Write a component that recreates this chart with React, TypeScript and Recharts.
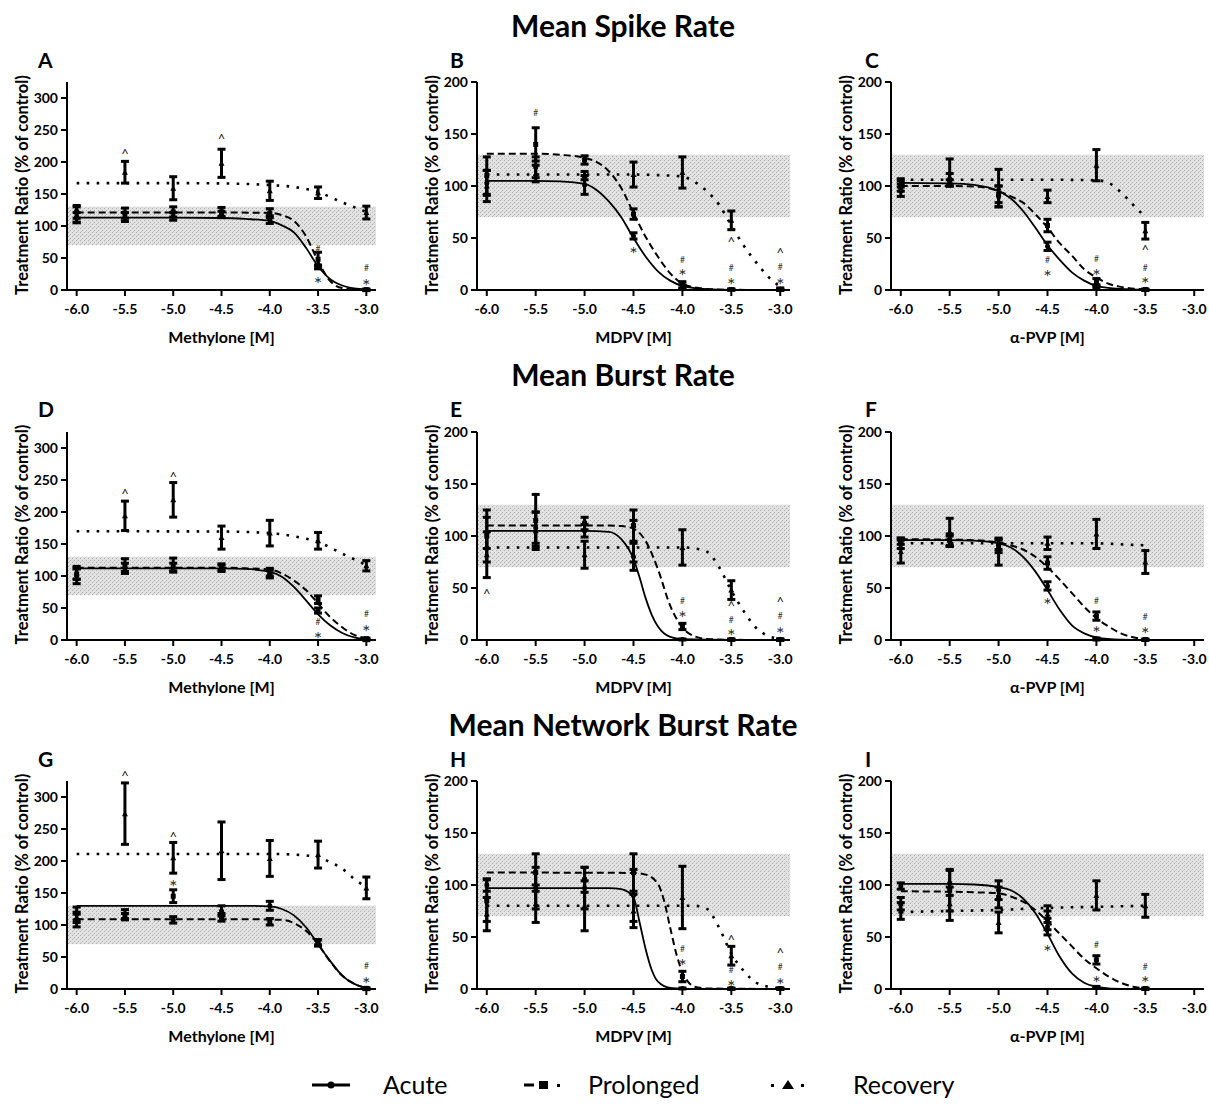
import React from 'react'
import {
  ComposedChart,
  Line,
  Scatter,
  XAxis,
  YAxis,
  ErrorBar,
  ReferenceArea,
  ReferenceDot,
} from 'recharts'

type Pt = [number, number, number] // dose, mean, sem
type Fit = [number, number] // dose, fitted value
type Mark = [number, number, string] // dose, value, symbol

const doseTicks = [-6.0, -5.5, -5.0, -4.5, -4.0, -3.5, -3.0]
const methyloneTicks = [0, 50, 100, 150, 200, 250, 300]
const cathinoneTicks = [0, 50, 100, 150, 200]
const rowTitles = ['Mean Spike Rate', 'Mean Burst Rate', 'Mean Network Burst Rate']
const drugLabels = ['Methylone [M]', 'MDPV [M]', 'α-PVP [M]']
const panelLetters = ['A', 'B', 'C', 'D', 'E', 'F', 'G', 'H', 'I']
const legendNames = ['Acute', 'Prolonged', 'Recovery']
const bandRange = [70, 130]

// --- A: spike rate, methylone
const aAcute: Pt[] = [[-6, 113, 8], [-5.5, 114, 7], [-5, 115, 6], [-4.5, 118, 5], [-4, 110, 6], [-3.5, 36, 3], [-3, 0, 1]]
const aProl: Pt[] = [[-6, 122, 10], [-5.5, 120, 8], [-5, 122, 8], [-4.5, 122, 7], [-4, 120, 7], [-3.5, 48, 11], [-3, 0.5, 1]]
const aRec: Pt[] = [[-6, 118, 12], [-5.5, 184, 17], [-5, 159, 18], [-4.5, 198, 22], [-4, 155, 15], [-3.5, 152, 9], [-3, 121, 10]]
const aAcuteFit: Fit[] = [[-6, 113], [-5, 113], [-4.5, 112.5], [-4.25, 111], [-4, 108], [-3.875, 101], [-3.75, 90], [-3.625, 66], [-3.5, 37], [-3.375, 17], [-3.25, 7], [-3.125, 2.5], [-3, 0.8]]
const aProlFit: Fit[] = [[-6, 121], [-4.5, 121], [-4, 120.5], [-3.875, 117], [-3.75, 108], [-3.625, 84], [-3.5, 45], [-3.375, 14], [-3.25, 3], [-3.125, 0.8], [-3, 0.2]]
const aRecFit: Fit[] = [[-6, 167], [-5, 167], [-4.5, 166.5], [-4, 164], [-3.75, 161], [-3.5, 153], [-3.25, 137], [-3, 122]]
const aMarks: Mark[] = [[-5.5, 216, '^'], [-4.5, 239, '^'], [-3.5, 64, '#'], [-3.5, 17, '*'], [-3, 34, '#'], [-3, 14, '*']]

// --- B: spike rate, MDPV
const bAcute: Pt[] = [[-6, 103, 12], [-5.5, 118, 10], [-5, 101, 9], [-4.5, 52, 3], [-4, 3, 2], [-3.5, 0.3, 0.5], [-3, 0.2, 0.5]]
const bProl: Pt[] = [[-6, 110, 18], [-5.5, 140, 16], [-5, 125, 4], [-4.5, 73, 5], [-4, 5, 3], [-3.5, 0.5, 0.5], [-3, 0.3, 0.5]]
const bRec: Pt[] = [[-6, 100, 15], [-5.5, 112, 8], [-5, 110, 4], [-4.5, 111, 12], [-4, 113, 15], [-3.5, 67, 9], [-3, 1, 1]]
const bAcuteFit: Fit[] = [[-6, 105], [-5.5, 105], [-5.25, 104.5], [-5, 102], [-4.875, 96], [-4.75, 85], [-4.625, 70], [-4.5, 50], [-4.375, 32], [-4.25, 18], [-4.125, 9], [-4, 4], [-3.75, 0.8], [-3.5, 0.2], [-3, 0]]
const bProlFit: Fit[] = [[-6, 131], [-5.5, 131], [-5.25, 130], [-5, 127], [-4.875, 123], [-4.75, 114], [-4.625, 98], [-4.5, 74], [-4.375, 51], [-4.25, 32], [-4.125, 16], [-4, 6], [-3.875, 2.6], [-3.75, 1], [-3.5, 0.2], [-3, 0]]
const bRecFit: Fit[] = [[-6, 111], [-4.5, 111], [-4.25, 110.5], [-4, 109], [-3.875, 104], [-3.75, 95], [-3.625, 82], [-3.5, 62], [-3.375, 43], [-3.25, 27], [-3.125, 13], [-3, 3]]
const bMarks: Mark[] = [[-5.5, 170, '#'], [-4.5, 39, '*'], [-4, 29, '#'], [-4, 18, '*'], [-3.5, 48, '^'], [-3.5, 21, '#'], [-3.5, 9, '*'], [-3, 37, '^'], [-3, 22, '#'], [-3, 9.6, '*']]

// --- C: spike rate, a-PVP
const cAcute: Pt[] = [[-6, 100, 5], [-5.5, 103, 3], [-5, 90, 10], [-4.5, 42, 4], [-4, 3, 1], [-3.5, 0, 0.5]]
const cProl: Pt[] = [[-6, 96, 6], [-5.5, 106, 6], [-5, 92, 8], [-4.5, 62, 6], [-4, 8, 3], [-3.5, 0.5, 0.5]]
const cRec: Pt[] = [[-6, 103, 4], [-5.5, 113, 13], [-5, 98, 18], [-4.5, 90, 6], [-4, 120, 15], [-3.5, 57, 8]]
const cAcuteFit: Fit[] = [[-6, 103], [-5.5, 102.5], [-5.25, 101], [-5, 95], [-4.875, 88], [-4.75, 76], [-4.625, 60], [-4.5, 43], [-4.375, 29], [-4.25, 17], [-4.125, 9], [-4, 4], [-3.75, 1], [-3.5, 0.2]]
const cProlFit: Fit[] = [[-6, 100], [-5.5, 100], [-5.25, 99.5], [-5, 95], [-4.875, 90], [-4.75, 84], [-4.625, 73], [-4.5, 60], [-4.375, 45], [-4.25, 33], [-4.125, 20], [-4, 12], [-3.875, 6], [-3.75, 3], [-3.5, 0.6]]
const cRecFit: Fit[] = [[-6, 106], [-4.5, 106], [-4, 105.5], [-3.875, 103], [-3.75, 94], [-3.625, 82], [-3.5, 70]]
const cMarks: Mark[] = [[-4.5, 29, '#'], [-4.5, 17, '*'], [-4, 30, '#'], [-4, 17.6, '*'], [-3.5, 40.6, '^'], [-3.5, 21, '#'], [-3.5, 10, '*']]

// --- D: burst rate, methylone
const dAcute: Pt[] = [[-6, 100, 12], [-5.5, 112, 8], [-5, 113, 7], [-4.5, 112, 5], [-4, 103, 6], [-3.5, 46, 4], [-3, 0, 1]]
const dProl: Pt[] = [[-6, 103, 8], [-5.5, 117, 10], [-5, 118, 10], [-4.5, 114, 5], [-4, 106, 6], [-3.5, 63, 6], [-3, 2, 1]]
const dRec: Pt[] = [[-6, 105, 10], [-5.5, 194, 23], [-5, 219, 27], [-4.5, 160, 18], [-4, 167, 20], [-3.5, 155, 13], [-3, 116, 8]]
const dAcuteFit: Fit[] = [[-6, 112], [-4.5, 112], [-4.25, 111], [-4, 106.5], [-3.875, 99], [-3.75, 83], [-3.625, 62], [-3.5, 40], [-3.375, 23], [-3.25, 11], [-3.125, 4], [-3, 1]]
const dProlFit: Fit[] = [[-6, 113], [-4.5, 113], [-4.25, 112], [-4, 110], [-3.875, 104], [-3.75, 93], [-3.625, 78], [-3.5, 57], [-3.375, 36], [-3.25, 20], [-3.125, 8], [-3, 3]]
const dRecFit: Fit[] = [[-6, 170], [-4.5, 169.5], [-4, 167], [-3.75, 162], [-3.5, 153], [-3.25, 135], [-3, 117]]
const dMarks: Mark[] = [[-5.5, 231, '^'], [-5, 257, '^'], [-3.5, 28.5, '#'], [-3.5, 9.3, '*'], [-3, 40, '#'], [-3, 20, '*']]

// --- E: burst rate, MDPV
const eAcute: Pt[] = [[-6, 103, 15], [-5.5, 108, 15], [-5, 105, 6], [-4.5, 80, 13], [-4, 0.5, 0.5], [-3.5, 0.2, 0.5], [-3, 0.2, 0.5]]
const eProl: Pt[] = [[-6, 100, 25], [-5.5, 115, 25], [-5, 112, 6], [-4.5, 110, 15], [-4, 13, 3], [-3.5, 0.5, 0.5], [-3, 0.3, 0.5]]
const eRec: Pt[] = [[-6, 82, 22], [-5.5, 105, 18], [-5, 82, 13], [-4.5, 95, 20], [-4, 89, 17], [-3.5, 48, 9], [-3, 0.5, 0.5]]
const eAcuteFit: Fit[] = [[-6, 105], [-5, 105], [-4.75, 104], [-4.625, 97], [-4.5, 78], [-4.4375, 60], [-4.375, 40], [-4.3125, 24], [-4.25, 13], [-4.125, 3], [-4, 0.8], [-3.5, 0], [-3, 0]]
const eProlFit: Fit[] = [[-6, 110], [-4.75, 110], [-4.625, 109.5], [-4.5, 107], [-4.375, 95], [-4.25, 68], [-4.125, 33], [-4, 12], [-3.875, 3.5], [-3.75, 1], [-3.5, 0.2], [-3, 0]]
const eRecFit: Fit[] = [[-6, 89], [-4, 89], [-3.875, 88], [-3.75, 85], [-3.625, 70], [-3.5, 47.5], [-3.375, 28], [-3.25, 12], [-3.125, 4], [-3, 1]]
const eMarks: Mark[] = [[-6, 46, '^'], [-4, 37, '#'], [-4, 26, '*'], [-3.5, 34, '^'], [-3.5, 19.5, '#'], [-3.5, 8.3, '*'], [-3, 38, '^'], [-3, 23.5, '#'], [-3, 10.6, '*']]

// --- F: burst rate, a-PVP
const fAcute: Pt[] = [[-6, 95, 3], [-5.5, 95, 5], [-5, 92, 5], [-4.5, 52, 4], [-4, 1, 1], [-3.5, 0, 0.5]]
const fProl: Pt[] = [[-6, 93, 5], [-5.5, 96, 6], [-5, 90, 6], [-4.5, 74, 6], [-4, 23, 4], [-3.5, 0.5, 0.5]]
const fRec: Pt[] = [[-6, 85, 11], [-5.5, 104, 13], [-5, 85, 13], [-4.5, 93, 6], [-4, 102, 14], [-3.5, 75, 11]]
const fAcuteFit: Fit[] = [[-6, 96], [-5.5, 96], [-5.25, 95.5], [-5, 93], [-4.875, 89], [-4.75, 80], [-4.625, 66], [-4.5, 48], [-4.375, 29], [-4.25, 14], [-4.125, 6.4], [-4, 2.6], [-3.75, 0.3], [-3.5, 0]]
const fProlFit: Fit[] = [[-6, 97], [-5.5, 96.5], [-5.25, 96], [-5, 93.6], [-4.875, 91], [-4.75, 87], [-4.625, 80], [-4.5, 70], [-4.375, 58], [-4.25, 45], [-4.125, 32], [-4, 21], [-3.875, 13], [-3.75, 6.4], [-3.625, 2.6], [-3.5, 0.6]]
const fRecFit: Fit[] = [[-6, 93], [-4, 93], [-3.75, 92], [-3.5, 91]]
const fMarks: Mark[] = [[-4.5, 38, '*'], [-4, 37, '#'], [-4, 11, '*'], [-3.5, 22, '#'], [-3.5, 10, '*']]

// --- G: network burst rate, methylone
const gAcute: Pt[] = [[-6, 118, 10], [-5.5, 117, 7], [-5, 108, 5], [-4.5, 122, 8], [-4, 130, 7], [-3.5, 73, 4], [-3, 0, 1]]
const gProl: Pt[] = [[-6, 107, 10], [-5.5, 113, 5], [-5, 145, 10], [-4.5, 112, 6], [-4, 105, 5], [-3.5, 72, 5], [-3, 1, 1]]
const gRec: Pt[] = [[-6, 112, 8], [-5.5, 274, 48], [-5, 205, 24], [-4.5, 216, 45], [-4, 204, 28], [-3.5, 210, 21], [-3, 158, 17]]
const gAcuteFit: Fit[] = [[-6, 130], [-4.25, 130], [-4, 129], [-3.875, 125], [-3.75, 115], [-3.625, 96.5], [-3.5, 70], [-3.375, 44], [-3.25, 21], [-3.125, 8], [-3, 1.5]]
const gProlFit: Fit[] = [[-6, 109], [-4.25, 109], [-4, 108.5], [-3.875, 108], [-3.75, 103], [-3.625, 91], [-3.5, 70], [-3.375, 43], [-3.25, 21], [-3.125, 8], [-3, 1.5]]
const gRecFit: Fit[] = [[-6, 211], [-4, 211], [-3.75, 210], [-3.5, 206], [-3.375, 198], [-3.25, 188], [-3.125, 172], [-3, 159]]
const gMarks: Mark[] = [[-5.5, 335, '^'], [-5, 241, '^'], [-5, 167, '*'], [-3, 36.5, '#'], [-3, 15, '*']]

// --- H: network burst rate, MDPV
const hAcute: Pt[] = [[-6, 100, 6], [-5.5, 97, 20], [-5, 97, 20], [-4.5, 90, 25], [-4, 0.5, 0.5], [-3.5, 0.2, 0.5], [-3, 0.2, 0.5]]
const hProl: Pt[] = [[-6, 85, 20], [-5.5, 112, 18], [-5, 105, 12], [-4.5, 112, 18], [-4, 12, 5], [-3.5, 0.3, 0.5], [-3, 0.3, 0.5]]
const hRec: Pt[] = [[-6, 72, 16], [-5.5, 82, 18], [-5, 80, 24], [-4.5, 75, 16], [-4, 88, 30], [-3.5, 32, 9], [-3, 0.3, 0.5]]
const hAcuteFit: Fit[] = [[-6, 97], [-4.75, 97], [-4.625, 96], [-4.5, 88], [-4.4375, 64], [-4.375, 38], [-4.3125, 18], [-4.25, 7], [-4.125, 1], [-4, 0.2], [-3, 0]]
const hProlFit: Fit[] = [[-6, 112], [-4.5, 111.6], [-4.375, 110], [-4.25, 101], [-4.1875, 85], [-4.125, 59], [-4.0625, 34], [-4, 16], [-3.9375, 6.4], [-3.875, 2.2], [-3.75, 0.5], [-3, 0]]
const hRecFit: Fit[] = [[-6, 80], [-3.875, 80], [-3.75, 77], [-3.625, 59], [-3.5, 34], [-3.375, 17.6], [-3.25, 6.4], [-3.125, 2.2], [-3, 0.6]]
const hMarks: Mark[] = [[-4, 38, '#'], [-4, 26.6, '*'], [-3.5, 49, '^'], [-3.5, 18, '#'], [-3.5, 6.4, '*'], [-3, 36, '^'], [-3, 21.5, '#'], [-3, 8.6, '*']]

// --- I: network burst rate, a-PVP
const iAcute: Pt[] = [[-6, 99, 3], [-5.5, 102, 12], [-5, 95, 9], [-4.5, 60, 8], [-4, 1.5, 1], [-3.5, 0, 0.5]]
const iProl: Pt[] = [[-6, 82, 6], [-5.5, 95, 20], [-5, 88, 10], [-4.5, 66, 9], [-4, 28, 4], [-3.5, 0.5, 0.5]]
const iRec: Pt[] = [[-6, 75, 8], [-5.5, 82, 16], [-5, 64, 10], [-4.5, 72, 8], [-4, 90, 14], [-3.5, 80, 11]]
const iAcuteFit: Fit[] = [[-6, 101], [-5.5, 101], [-5.25, 100.5], [-5, 98], [-4.875, 95], [-4.75, 87], [-4.625, 73], [-4.5, 53], [-4.375, 31], [-4.25, 15], [-4.125, 6], [-4, 2.2], [-3.875, 0.6], [-3.75, 0.2]]
const iProlFit: Fit[] = [[-6, 94], [-5.5, 93.5], [-5.25, 93], [-5, 92], [-4.875, 89], [-4.75, 84], [-4.625, 76], [-4.5, 65], [-4.375, 53], [-4.25, 41], [-4.125, 29], [-4, 20], [-3.875, 12], [-3.75, 6], [-3.625, 2.2], [-3.5, 0.6]]
const iRecFit: Fit[] = [[-6, 74], [-5.5, 75], [-5, 76], [-4.5, 78], [-4, 79], [-3.5, 80]]
const iMarks: Mark[] = [[-4.5, 40, '*'], [-4, 42, '#'], [-4, 10, '*'], [-3.5, 21, '#'], [-3.5, 10, '*']]

const panels = [
  { acute: aAcute, prol: aProl, rec: aRec, acuteFit: aAcuteFit, prolFit: aProlFit, recFit: aRecFit, marks: aMarks },
  { acute: bAcute, prol: bProl, rec: bRec, acuteFit: bAcuteFit, prolFit: bProlFit, recFit: bRecFit, marks: bMarks },
  { acute: cAcute, prol: cProl, rec: cRec, acuteFit: cAcuteFit, prolFit: cProlFit, recFit: cRecFit, marks: cMarks },
  { acute: dAcute, prol: dProl, rec: dRec, acuteFit: dAcuteFit, prolFit: dProlFit, recFit: dRecFit, marks: dMarks },
  { acute: eAcute, prol: eProl, rec: eRec, acuteFit: eAcuteFit, prolFit: eProlFit, recFit: eRecFit, marks: eMarks },
  { acute: fAcute, prol: fProl, rec: fRec, acuteFit: fAcuteFit, prolFit: fProlFit, recFit: fRecFit, marks: fMarks },
  { acute: gAcute, prol: gProl, rec: gRec, acuteFit: gAcuteFit, prolFit: gProlFit, recFit: gRecFit, marks: gMarks },
  { acute: hAcute, prol: hProl, rec: hRec, acuteFit: hAcuteFit, prolFit: hProlFit, recFit: hRecFit, marks: hMarks },
  { acute: iAcute, prol: iProl, rec: iRec, acuteFit: iAcuteFit, prolFit: iProlFit, recFit: iRecFit, marks: iMarks },
]

// layout
const colLeft = [0, 400, 810]
const axisWidth = [67, 77, 81]
const plotWidth = [309, 313, 313]
const rightMargin = [12, 10, 5]
const plotTop = [82, 431.5, 780.5]
const plotHeight = 208
const topMargin = 30
const xAxisHeight = 60

const toPts = (arr: Pt[]) => arr.map(([x, y, e]) => ({ x, y, e }))
const toFit = (arr: Fit[]) => arr.map(([x, y]) => ({ x, y }))

const circleShape = (p: any) => <circle cx={p.cx} cy={p.cy} r={2.5} fill="#000" />
const squareShape = (p: any) => <rect x={p.cx - 2.5} y={p.cy - 2.5} width={5} height={5} fill="#000" />
const triangleShape = (p: any) => (
  <path d={`M${p.cx},${p.cy - 3} L${p.cx + 3},${p.cy + 2.5} L${p.cx - 3},${p.cy + 2.5} Z`} fill="#000" />
)

// font size and baseline shift (in em) that centres each glyph on its point
const markStyle: Record<string, { size: number; shift: number; fill: string }> = {
  '*': { size: 20, shift: 0.59, fill: '#333' },
  '#': { size: 8.5, shift: 0.35, fill: '#333' },
  '^': { size: 13, shift: 0.52, fill: '#222' },
}

function Panel({ idx }: { idx: number }) {
  const p = panels[idx]
  const col = idx % 3
  const row = Math.floor(idx / 3)
  const isMethylone = col === 0
  const yMax = isMethylone ? 325 : 200
  const width = axisWidth[col] + plotWidth[col] + rightMargin[col]
  const height = topMargin + plotHeight + xAxisHeight

  const errBar = <ErrorBar dataKey="e" direction="y" width={4} strokeWidth={3} stroke="#000" />

  return (
    <div style={{ position: 'absolute', left: colLeft[col], top: plotTop[row] - topMargin }}>
      <ComposedChart
        width={width}
        height={height}
        margin={{ top: topMargin, right: rightMargin[col], bottom: 0, left: 0 }}
      >
        <XAxis
          dataKey="x"
          type="number"
          domain={[-6.1, -2.9]}
          ticks={doseTicks}
          interval={0}
          allowDataOverflow
          tickFormatter={(v: number) => v.toFixed(1)}
          height={xAxisHeight}
          tickSize={6}
          tickMargin={8}
          axisLine={{ stroke: '#000', strokeWidth: 2 }}
          tickLine={{ stroke: '#000', strokeWidth: 2 }}
          tick={{ fill: '#000', fontSize: 14, fontWeight: 700 }}
        />
        <YAxis
          dataKey="y"
          type="number"
          domain={[0, yMax]}
          ticks={isMethylone ? methyloneTicks : cathinoneTicks}
          interval={0}
          allowDataOverflow
          width={axisWidth[col]}
          tickSize={6}
          tickMargin={3}
          axisLine={{ stroke: '#000', strokeWidth: 2 }}
          tickLine={{ stroke: '#000', strokeWidth: 2 }}
          tick={{ fill: '#000', fontSize: 14, fontWeight: 700 }}
        />
        <ReferenceArea y1={bandRange[0]} y2={bandRange[1]} fill="url(#stipple)" fillOpacity={1} stroke="none" />

        <Line data={toFit(p.acuteFit)} dataKey="y" type="monotone" dot={false} stroke="#000" strokeWidth={1.8} isAnimationActive={false} />
        <Line data={toFit(p.prolFit)} dataKey="y" type="monotone" dot={false} stroke="#000" strokeWidth={2} strokeDasharray="7 4" isAnimationActive={false} />
        <Line data={toFit(p.recFit)} dataKey="y" type="monotone" dot={false} stroke="#000" strokeWidth={2.6} strokeDasharray="2.6 7.4" isAnimationActive={false} />

        <Scatter data={toPts(p.acute)} dataKey="y" shape={circleShape} isAnimationActive={false}>
          {errBar}
        </Scatter>
        <Scatter data={toPts(p.prol)} dataKey="y" shape={squareShape} isAnimationActive={false}>
          {errBar}
        </Scatter>
        <Scatter data={toPts(p.rec)} dataKey="y" shape={triangleShape} isAnimationActive={false}>
          {errBar}
        </Scatter>

        {p.marks.map(([x, y, s], i) => {
          const st = markStyle[s]
          return (
            <ReferenceDot
              key={`m-${i}`}
              x={x}
              y={y}
              r={0}
              ifOverflow="visible"
              shape={(d: any) => (
                <text
                  x={d.cx}
                  y={d.cy + st.size * st.shift}
                  textAnchor="middle"
                  fontSize={st.size}
                  fill={st.fill}
                  fontFamily="Lato"
                >
                  {s}
                </text>
              )}
            />
          )
        })}
      </ComposedChart>
    </div>
  )
}

function Overlay() {
  const legendX = [383, 588, 853]
  return (
    <svg width={1209} height={1104} style={{ position: 'absolute', left: 0, top: 0 }}>
      <defs>
        <pattern id="stipple" width="4" height="4" patternUnits="userSpaceOnUse">
          <rect width="4" height="4" fill="#e2e2e2" />
          <rect x="0" y="0" width="1" height="1" fill="#b0b0b0" />
          <rect x="2" y="2" width="1" height="1" fill="#b0b0b0" />
          <rect x="1" y="3" width="1" height="1" fill="#cdcdcd" />
        </pattern>
      </defs>

      {rowTitles.map((t, r) => (
        <text key={t} x={623} y={37 + r * 349.25} textAnchor="middle" fontSize={30} fontWeight={700} fill="#000">
          {t}
        </text>
      ))}

      {panelLetters.map((l, i) => {
        const col = i % 3
        const row = Math.floor(i / 3)
        return (
          <text key={l} x={[38, 450, 865][col]} y={68 + row * 349.25} fontSize={21} fontWeight={700} fill="#000">
            {l}
          </text>
        )
      })}

      {panelLetters.map((l, i) => {
        const col = i % 3
        const row = Math.floor(i / 3)
        const cx = colLeft[col] + axisWidth[col] - 45
        const cy = plotTop[row] + plotHeight / 2 - 1
        return (
          <text
            key={`yl-${l}`}
            x={cx}
            y={cy}
            transform={`rotate(-90 ${cx} ${cy})`}
            textAnchor="middle"
            dominantBaseline="central"
            fontSize={16.5}
            fontWeight={700}
            fill="#000"
          >
            Treatment Ratio (% of control)
          </text>
        )
      })}

      {panelLetters.map((l, i) => {
        const col = i % 3
        const row = Math.floor(i / 3)
        return (
          <text
            key={`xl-${l}`}
            x={colLeft[col] + axisWidth[col] + plotWidth[col] / 2}
            y={plotTop[row] + plotHeight + 53}
            textAnchor="middle"
            fontSize={16}
            fontWeight={700}
            fill="#000"
          >
            {drugLabels[col]}
          </text>
        )
      })}

      {/* legend */}
      <g>
        <line x1={312} y1={1085} x2={350} y2={1085} stroke="#000" strokeWidth={3} />
        <circle cx={331} cy={1085} r={3.5} fill="#000" />

        <line x1={524} y1={1085} x2={534} y2={1085} stroke="#000" strokeWidth={3} />
        <rect x={539} y={1081} width={9} height={8} fill="#000" />
        <rect x={557} y={1084} width={3} height={3} fill="#000" />

        <rect x={771} y={1084} width={3} height={3} fill="#000" />
        <path d="M788,1080 L794,1089 L782,1089 Z" fill="#000" />
        <rect x={801} y={1084} width={3} height={3} fill="#000" />

        {legendNames.map((n, i) => (
          <text key={n} x={legendX[i]} y={1094} fontSize={25} fill="#000">
            {n}
          </text>
        ))}
      </g>
    </svg>
  )
}

export default function App() {
  return (
    <div
      style={{
        position: 'absolute',
        left: 0,
        top: 0,
        width: 1209,
        height: 1104,
        background: '#fff',
        fontFamily: 'Lato, "DejaVu Sans", sans-serif',
        overflow: 'hidden',
      }}
    >
      <Overlay />
      {panels.map((_, i) => (
        <Panel key={i} idx={i} />
      ))}
    </div>
  )
}
